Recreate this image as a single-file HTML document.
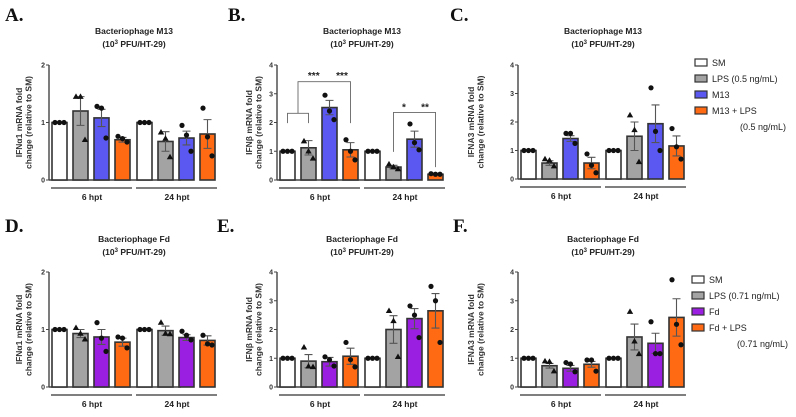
<!DOCTYPE html>
<html><head><meta charset="utf-8"><style>
html,body{margin:0;padding:0;background:#fff;width:796px;height:417px;overflow:hidden}
svg{display:block;font-family:"Liberation Sans",sans-serif}
</style></head><body>
<svg id="fig" width="796" height="417" viewBox="0 0 796 417" xmlns="http://www.w3.org/2000/svg"></svg>
<script>
// ---- data (means, SEM, replicate points) ----
const groups = ["6 hpt","24 hpt"];
const aMeans = [[1,1.2,1.08,0.7],[1,0.67,0.73,0.8]];
const aErr = [[0,0.25,0.15,0.04],[0,0.17,0.12,0.25]];
const aPts = [[[1,1,1],[1.45,1.45,0.7],[1.28,1.25,0.73],[0.76,0.72,0.66]],[[1,1,1],[0.83,0.72,0.4],[0.95,0.78,0.5],[1.25,0.75,0.42]]];
const bMeans = [[1,1.12,2.52,1.05],[1,0.45,1.42,0.2]];
const bErr = [[0,0.25,0.25,0.25],[0,0.06,0.28,0.03]];
const bPts = [[[1,1,1],[1.35,1.0,0.75],[2.95,2.4,2.1],[1.4,1.0,0.7]],[[1,1,1],[0.55,0.45,0.38],[1.95,1.3,1.05],[0.22,0.2,0.2]]];
const cMeans = [[1,0.56,1.42,0.56],[1,1.5,1.94,1.16]];
const cErr = [[0,0.08,0.1,0.2],[0,0.5,0.66,0.35]];
const cPts = [[[1,1,1],[0.7,0.65,0.45],[1.6,1.6,1.25],[0.88,0.48,0.22]],[[1,1,1],[2.24,1.72,0.6],[3.2,1.67,1.0],[1.77,1.13,0.7]]];
const dMeans = [[1,0.93,0.87,0.78],[1,0.98,0.86,0.81]];
const dErr = [[0,0.07,0.13,0.07],[0,0.08,0.05,0.08]];
const dPts = [[[1,1,1],[1.03,0.93,0.83],[1.12,0.85,0.62],[0.87,0.85,0.68]],[[1,1,1],[1.12,0.93,0.92],[0.97,0.9,0.82],[0.9,0.75,0.73]]];
const eMeans = [[1,0.9,0.88,1.07],[1,2.0,2.38,2.65]];
const eErr = [[0,0.23,0.15,0.28],[0,0.48,0.35,0.6]];
const ePts = [[[1,1,1],[1.38,0.72,0.7],[1.05,0.95,0.73],[1.55,0.95,0.7]],[[1,1,1],[2.65,2.3,1.05],[2.82,2.5,1.72],[3.5,3.0,1.55]]];
const fMeans = [[1,0.74,0.65,0.79],[1,1.74,1.52,2.42]];
const fErr = [[0,0.08,0.1,0.1],[0,0.45,0.35,0.65]];
const fPts = [[[1,1,1],[0.9,0.88,0.55],[0.85,0.8,0.53],[0.94,0.94,0.55]],[[1,1,1],[2.62,1.59,1.15],[2.27,1.16,1.16],[3.73,2.18,1.47]]];
const ticks2 = [0,1,2];
const ticks4 = [0,1,2,3,4];

const NS="http://www.w3.org/2000/svg";
const svg=document.getElementById('fig');
function mk(tag,attrs,parent,txt){const e=document.createElementNS(NS,tag);for(const k in attrs)e.setAttribute(k,attrs[k]);if(txt!==undefined)e.textContent=txt;(parent||svg).appendChild(e);return e;}

function panel(o){
  const g=mk('g',{});
  
  
  const ys=v=>o.y0-(o.y0-o.ytop)*v/o.ymax;
  const L=mk('text',{x:o.lx,y:o.ly,'font-family':'Liberation Serif,serif','font-weight':'bold','font-size':19,fill:'#111'},g,o.letter);
  
  
  const tc=o.ax+85;
  const t1=mk('text',{x:tc,y:o.ty,'text-anchor':'middle','font-weight':'bold','font-size':8.5,fill:'#222'},g,'Bacteriophage '+o.phage);
  
  
  const t2=mk('text',{x:tc,y:o.ty+13,'text-anchor':'middle','font-weight':'bold','font-size':8.5,fill:'#222'},g);
  
  
  t2.innerHTML='(10<tspan dy="-3" font-size="6">3</tspan><tspan dy="3"> PFU/HT-29)</tspan>';
  const cy=(o.y0+o.ytop)/2;
  const yt=mk('g',{},g);
  
  
  mk('text',{x:0,y:0,transform:`translate(${o.ax+o.yt1},${cy}) rotate(-90)`,'text-anchor':'middle','font-weight':'bold','font-size':8.5,fill:'#333'},yt,o.gene+' mRNA fold');
  mk('text',{x:0,y:0,transform:`translate(${o.ax+o.yt1+9.5},${cy}) rotate(-90)`,'text-anchor':'middle','font-weight':'bold','font-size':8.5,fill:'#333'},yt,'change (relative to SM)');
  const axis=mk('g',{},g);
  
  
  mk('line',{x1:o.ax,y1:o.ytop,x2:o.ax,y2:o.y0,stroke:'#444','stroke-width':1.4},axis);
  mk('line',{x1:o.ax,y1:o.y0,x2:o.ax+132,y2:o.y0,stroke:'#444','stroke-width':1.4},axis);
  o.ticks.forEach(t=>{
    mk('line',{x1:o.ax-3,y1:ys(t),x2:o.ax,y2:ys(t),stroke:'#444','stroke-width':1},axis);
    const tl=mk('text',{x:o.ax-4,y:ys(t)+2.5,'text-anchor':'end','font-weight':'bold','font-size':7,fill:'#333'},axis,String(t));
    
    
  });
  const colors=['#ffffff','#a3a3a3',o.c3,'#ff6a12'];
  for(let gi=0;gi<2;gi++){
    const gx=o.ax+3+gi*85;
    const gl=mk('line',{x1:gx-1,y1:o.y0+8,x2:gx+80,y2:o.y0+8,stroke:'#555','stroke-width':1.4},g);
    
    
    const glt=mk('text',{x:gx+40,y:o.y0+20,'text-anchor':'middle','font-weight':'bold','font-size':8.5,fill:'#222'},g,groups[gi]);
    
    
    for(let i=0;i<4;i++){
      const x=gx+i*21, w=15, m=o.means[gi][i], e=o.err[gi][i];
      const r=mk('rect',{x:x,y:ys(m),width:w,height:o.y0-ys(m),fill:colors[i],stroke:'#333','stroke-width':1.6},g);
      
      
      const cx=x+w/2;
      if(e>0){
        const eb=mk('path',{d:`M${cx},${ys(m-e)}V${ys(m+e)}M${cx-4},${ys(m+e)}H${cx+4}M${cx-4},${ys(m-e)}H${cx+4}`,stroke:'#555','stroke-width':1.1,fill:'none'},g);
        
        
      }
      o.pts[gi][i].forEach((p,k)=>{
        const px=cx+(k-1)*4.5, py=ys(p);
        let pt;
        if(i===1) pt=mk('path',{d:`M${px},${py-3.3}L${px+3.2},${py+2.2}L${px-3.2},${py+2.2}Z`,fill:'#111'},g);
        else pt=mk('circle',{cx:px,cy:py,r:2.6,fill:'#111'},g);
        
        
      });
    }
  }
  if(o.after)o.after(g,ys);
}
function legend(x,y,items){
  const g=mk('g',{});
  
  
  items.forEach((it,i)=>{
    const yy=y+i*16;
    if(it.c){
      const r=mk('rect',{x:x,y:yy-4,width:12,height:7,fill:it.c,stroke:'#333','stroke-width':1.2},g);
      
      
    }
    const t=mk('text',{x:it.c?x+17:x+45,y:yy+3,'font-size':9,fill:'#222'},g,it.t);
    
    
  });
}
panel({name:'panel-a',letter:'A.',lx:5,ly:21,phage:'M13',gene:'IFNα1',ax:49,y0:180,ytop:65,ymax:2,ticks:ticks2,ty:34,yt1:-27,c3:'#5b58f2',means:aMeans,err:aErr,pts:aPts});
panel({name:'panel-b',letter:'B.',lx:228,ly:21,phage:'M13',gene:'IFNβ',ax:277,y0:180,ytop:65,ymax:4,ticks:ticks4,ty:34,yt1:-25,c3:'#5b58f2',means:bMeans,err:bErr,pts:bPts,
 after:(g,ys)=>{
  const s={stroke:'#666','stroke-width':0.9,fill:'none'};
  const ax=277;
  const c=i=>ax+3+i*21+7.5, c2=i=>ax+88+i*21+7.5;
  const br=mk('g',{},g);
  
  
  const mid=(c(0)+c(1))/2;
  mk('path',Object.assign({d:`M${c(0)},${ys(1.98)}V${ys(2.32)}H${c(1)}V${ys(1.98)}M${mid},${ys(2.32)}V${ys(3.42)}H${c(3)}V${ys(1.98)}`},s),br);
  mk('path',Object.assign({d:`M${c2(1)},${ys(0.98)}V${ys(2.35)}H${c2(3)}V${ys(0.45)}`},s),br);
  [[ (mid+c(2))/2, ys(3.65),'***'],[(c(2)+c(3))/2+2,ys(3.65),'***'],[(c2(1)+c2(2))/2,ys(2.55),'*'],[(c2(2)+c2(3))/2,ys(2.55),'**']].forEach(a=>{
    const t=mk('text',{x:a[0],y:a[1]+4,'text-anchor':'middle','font-size':10,'font-weight':'bold',fill:'#222'},br,a[2]);
    
    
  });
 }});
panel({name:'panel-c',letter:'C.',lx:450,ly:21,phage:'M13',gene:'IFNA3',ax:518,y0:179,ytop:65,ymax:4,ticks:ticks4,ty:34,yt1:-44,c3:'#5b58f2',means:cMeans,err:cErr,pts:cPts});
panel({name:'panel-d',letter:'D.',lx:5,ly:232,phage:'Fd',gene:'IFNα1',ax:49,y0:387,ytop:272,ymax:2,ticks:ticks2,ty:242,yt1:-27,c3:'#9b1fe0',means:dMeans,err:dErr,pts:dPts});
panel({name:'panel-e',letter:'E.',lx:217,ly:232,phage:'Fd',gene:'IFNβ',ax:277,y0:387,ytop:272,ymax:4,ticks:ticks4,ty:242,yt1:-25,c3:'#9b1fe0',means:eMeans,err:eErr,pts:ePts});
panel({name:'panel-f',letter:'F.',lx:453,ly:232,phage:'Fd',gene:'IFNA3',ax:518,y0:387,ytop:272,ymax:4,ticks:ticks4,ty:242,yt1:-44,c3:'#9b1fe0',means:fMeans,err:fErr,pts:fPts});
legend(695,63,[{c:'#fff',t:'SM'},{c:'#a3a3a3',t:'LPS (0.5 ng/mL)'},{c:'#5b58f2',t:'M13'},{c:'#ff6a12',t:'M13 + LPS'},{t:'(0.5 ng/mL)'}]);
legend(692,280,[{c:'#fff',t:'SM'},{c:'#a3a3a3',t:'LPS (0.71 ng/mL)'},{c:'#9b1fe0',t:'Fd'},{c:'#ff6a12',t:'Fd + LPS'},{t:'(0.71 ng/mL)'}]);
</script>
</body></html>
